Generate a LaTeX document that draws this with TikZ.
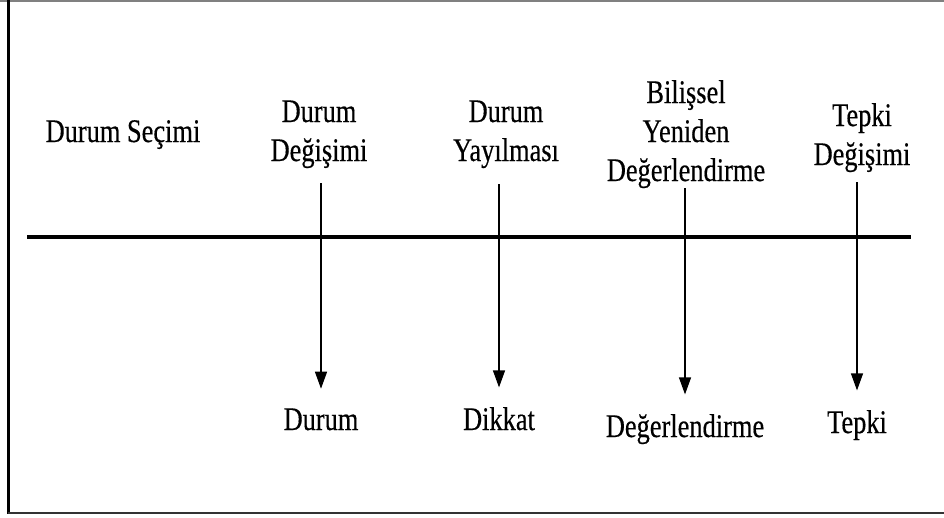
\documentclass[tikz,border=0pt]{standalone}
\usepackage{fontspec}
\setmainfont{Liberation Serif}[FakeStretch=0.8,FakeBold=0.4]
\usetikzlibrary{arrows.meta}
\begin{document}
\begin{tikzpicture}[x=1pt,y=-1pt,
		every node/.style={inner sep=0pt, align=center, anchor=base, font=\fontsize{33}{39}\selectfont},
		flow/.style={-{Triangle[length=17pt,width=12pt]}, line width=1.3pt, shorten >=19.5pt}]
		\useasboundingbox (0,0) rectangle (944,517);
		\draw[gray, line width=1.5pt] (0,1) -- (944,1);
		\draw[line width=2.5pt] (8.5,0) -- (8.5,514);
		\draw[black!80, line width=2pt] (8,513) -- (944,513);
		\draw[line width=3.5pt] (27,237) -- (911,237);

		\node (box1) at (123,142) {Durum Seçimi};
		\node (box2) at (319,161) {Durum\\Değişimi};
		\node (box3) at (506,161) {Durum\\Yayılması};
		\node (box4) at (686,181) {Bilişsel\\Yeniden\\Değerlendirme};
		\node (box5) at (862,165) {Tepki\\Değişimi};
		\node (box6) at (321,430) {Durum};
		\node (box7) at (499,430) {Dikkat};
		\node (box8) at (685,437) {Değerlendirme};
		\node (box9) at (857,433) {Tepki};

		% Arrows
		\draw[flow, shorten <=15pt] (box2.south -| box6.north) -- (box6.north);
		\draw[flow, shorten <=16pt] (box3.south -| box7.north) -- (box7.north);
		\draw[flow] (box4.south -| box8.north) -- (box8.north);
		\draw[flow, shorten <=10pt] (box5.south -| box9.north) -- (box9.north);
	\end{tikzpicture}
\end{document}
